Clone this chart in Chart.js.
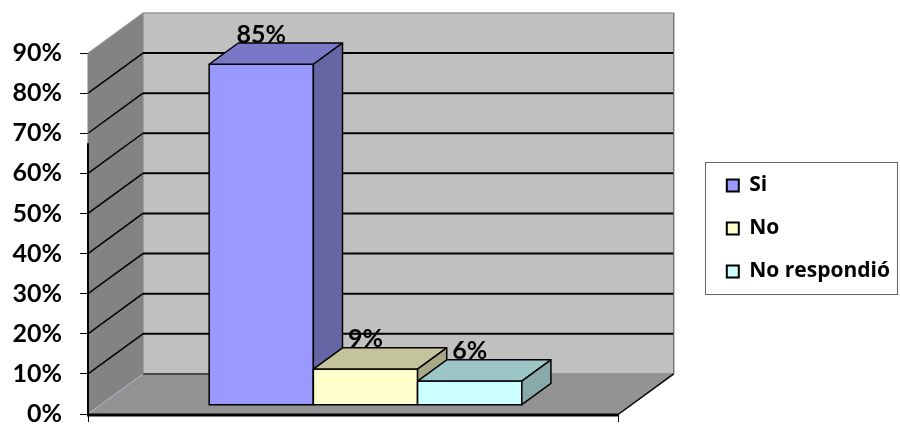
<!DOCTYPE html>
<html>
<head>
<meta charset="utf-8">
<script src="https://cdn.jsdelivr.net/npm/chart.js@4/dist/chart.umd.min.js"></script>
<style>
  html, body { margin: 0; padding: 0; background: #fff; }
</style>
</head>
<body>
<canvas id="chart" width="900" height="424"></canvas>
<script>
// ─── Données ────────────────────────────────────────────────────────
const categories = [''];
const seriesNames = ['Si', 'No', 'No respondió'];
const seriesValues = [85, 9, 6];
const yTicks = [0, 10, 20, 30, 40, 50, 60, 70, 80, 90];

// Couleurs des faces (avant, dessus, côté)
const frontColors = ['#9999FF', '#FFFFCC', '#CCFFFF'];
const topColors = ['#7878C6', '#C4C49C', '#9CC6C6'];
const sideColors = ['#6666A4', '#A8A888', '#88AAAA'];

const FONT = 'Lato, "Open Sans", sans-serif';
const LEGEND_FONT = '"Open Sans", Lato, sans-serif';
const DEPTH_X = 1.37;     // recul horizontal du mur (pour un pas vertical de 10 %)
const BAR_OFFSET = 0.22;  // position de la face avant des barres dans la profondeur
const BAR_DEPTH = 0.53;   // profondeur des barres

function poly(ctx, pts, fill, stroke, lw) {
    ctx.beginPath();
    ctx.moveTo(pts[0][0], pts[0][1]);
    for (let i = 1; i < pts.length; i++) ctx.lineTo(pts[i][0], pts[i][1]);
    ctx.closePath();
    if (fill) { ctx.fillStyle = fill; ctx.fill(); }
    if (stroke) { ctx.strokeStyle = stroke; ctx.lineWidth = lw || 1; ctx.stroke(); }
}

function line(ctx, x1, y1, x2, y2, color, lw) {
    ctx.beginPath();
    ctx.moveTo(x1, y1);
    ctx.lineTo(x2, y2);
    ctx.strokeStyle = color;
    ctx.lineWidth = lw;
    ctx.stroke();
}

// Géométrie 3D commune, tirée de l'échelle Y
function depth(chart) {
    const y = chart.scales.y;
    const y0 = y.getPixelForValue(0);
    const dy = y.getPixelForValue(10) - y0;
    return { y0, dy, dx: -dy * DEPTH_X };
}

// ─── Murs, sol et quadrillage ───────────────────────────────────────
const walls3d = {
    id: 'walls3d',
    beforeDatasetsDraw(chart) {
        const { ctx, chartArea: a, scales: { y } } = chart;
        const { y0, dx, dy } = depth(chart);
        const yTop = y.getPixelForValue(yTicks[yTicks.length - 1]);
        const L = a.left, R = a.right;
        ctx.save();
        // mur latéral
        poly(ctx, [[L, y0], [L + dx, y0 + dy], [L + dx, yTop + dy], [L, yTop]], '#838383');
        // mur du fond
        poly(ctx, [[L + dx, yTop + dy], [R + dx, yTop + dy], [R + dx, y0 + dy], [L + dx, y0 + dy]], '#C0C0C0', '#7a7a7a', 1);
        // sol
        poly(ctx, [[L, y0], [R, y0], [R + dx, y0 + dy], [L + dx, y0 + dy]], '#939393');
        line(ctx, L, y0, L + dx, y0 + dy, '#b0b0c8', 1);
        line(ctx, L + dx, y0 + dy, L + dx + 145, y0 + dy, '#333', 1.5);

        // quadrillage
        yTicks.forEach(v => {
            if (v === 0) return;
            const py = y.getPixelForValue(v);
            if (v === yTicks[yTicks.length - 1]) {
                line(ctx, L, py, L + dx, py + dy, '#9a9a9a', 1);
                return;
            }
            line(ctx, L + dx, py + dy, R + dx, py + dy, '#000', 2);
            line(ctx, L, py, L + dx, py + dy, '#000', 1.5);
        });

        // bords avant
        line(ctx, L, yTop, L, y0, '#808080', 1);
        line(ctx, L, y.getPixelForValue(67.5), L, y0 + 1, '#000', 2);
        line(ctx, R, y0, R + dx, y0 + dy, '#000', 1.5);
        line(ctx, R + dx, y0 + dy, R + dx, yTop + dy, '#6a6a6a', 1);
        line(ctx, L - 1, y0 + 1, R, y0 + 1, '#000', 3);
        ctx.restore();
    }
};

// ─── Barres 3D et étiquettes ────────────────────────────────────────
const bars3d = {
    id: 'bars3d',
    beforeDatasetDraw() {
        return false;
    },
    afterDatasetsDraw(chart) {
        const { ctx } = chart;
        const { dx, dy } = depth(chart);
        const ox = dx * BAR_OFFSET, oy = dy * BAR_OFFSET;
        const bx = dx * BAR_DEPTH, by = dy * BAR_DEPTH;
        const tops = [];
        ctx.save();
        ctx.lineJoin = 'round';
        chart.data.datasets.forEach((ds, i) => {
            const el = chart.getDatasetMeta(i).data[0];
            const l = el.x - el.width / 2 + ox, r = el.x + el.width / 2 + ox;
            const t = el.y + oy, b = el.base + oy;
            poly(ctx, [[l, t], [r, t], [r, b], [l, b]], frontColors[i], '#000', 1.5);
            poly(ctx, [[l, t], [r, t], [r + bx, t + by], [l + bx, t + by]], topColors[i], '#000', 1.5);
            poly(ctx, [[r, t], [r + bx, t + by], [r + bx, b + by], [r, b]], sideColors[i], '#000', 1.5);
            tops.push({ x: el.x + ox, y: t + by + 4, v: ds.data[0] });
        });
        ctx.fillStyle = '#000';
        ctx.font = 'bold 25px ' + FONT;
        ctx.textAlign = 'center';
        ctx.textBaseline = 'bottom';
        tops.forEach(p => ctx.fillText(p.v + '%', p.x, p.y));
        ctx.restore();
    }
};

// ─── Cadre de la légende ────────────────────────────────────────────
const legendFrame = {
    id: 'legendFrame',
    afterDraw(chart) {
        const lg = chart.legend;
        if (!lg || !lg.legendHitBoxes || !lg.legendHitBoxes.length) return;
        const hb = lg.legendHitBoxes;
        const first = hb[0], last = hb[hb.length - 1];
        const top = Math.round(first.top + first.height / 2 - 24) + 0.5;
        const bottom = Math.round(last.top + last.height / 2 + 22) + 0.5;
        const left = Math.round(lg.left) + 0.5;
        const right = 897.5;
        const ctx = chart.ctx;
        ctx.save();
        ctx.strokeStyle = '#666';
        ctx.lineWidth = 1;
        ctx.strokeRect(left, top, right - left, bottom - top);
        ctx.restore();
    }
};

new Chart(document.getElementById('chart'), {
    type: 'bar',
    data: {
        labels: categories,
        datasets: seriesNames.map((name, i) => ({
            label: name,
            data: [seriesValues[i]],
            backgroundColor: frontColors[i],
            borderColor: '#000',
            borderWidth: 2,
        })),
    },
    options: {
        responsive: false,
        animation: false,
        layout: { padding: { top: 43, left: 0, right: 0, bottom: 0 } },
        datasets: { bar: { categoryPercentage: 0.589, barPercentage: 1 } },
        plugins: {
            tooltip: { enabled: false },
            legend: {
                position: 'right',
                fullSize: false,
                maxWidth: 300,
                labels: {
                    color: '#000',
                    font: { family: LEGEND_FONT, size: 21, weight: 'bold' },
                    boxWidth: 12,
                    boxHeight: 12,
                    padding: 22,
                },
            },
        },
        scales: {
            x: {
                grid: { drawOnChartArea: false, color: '#000', tickLength: 8, offset: true },
                border: { display: false },
                ticks: { display: false },
                afterFit: s => { s.height = 10; s.paddingLeft = 0; s.paddingRight = 0; },
            },
            y: {
                min: 0,
                max: 92.5,
                grid: { drawOnChartArea: false, color: '#000', tickLength: 8 },
                border: { display: false },
                ticks: {
                    padding: 18,
                    color: '#000',
                    font: { family: FONT, size: 25, weight: 'bold' },
                    callback: v => v + '%',
                },
                afterBuildTicks: s => { s.ticks = yTicks.map(v => ({ value: v })); },
                afterFit: s => { s.width = 88; s.paddingTop = 0; s.paddingBottom = 0; },
            },
            // espace réservé entre le mur du fond et la légende
            gap: {
                type: 'linear',
                position: 'right',
                grid: { display: false },
                border: { display: false },
                ticks: { display: false },
                afterFit: s => { s.width = 86; s.paddingTop = 0; s.paddingBottom = 0; },
            },
        },
    },
    plugins: [walls3d, bars3d, legendFrame],
});
</script>
</body>
</html>
